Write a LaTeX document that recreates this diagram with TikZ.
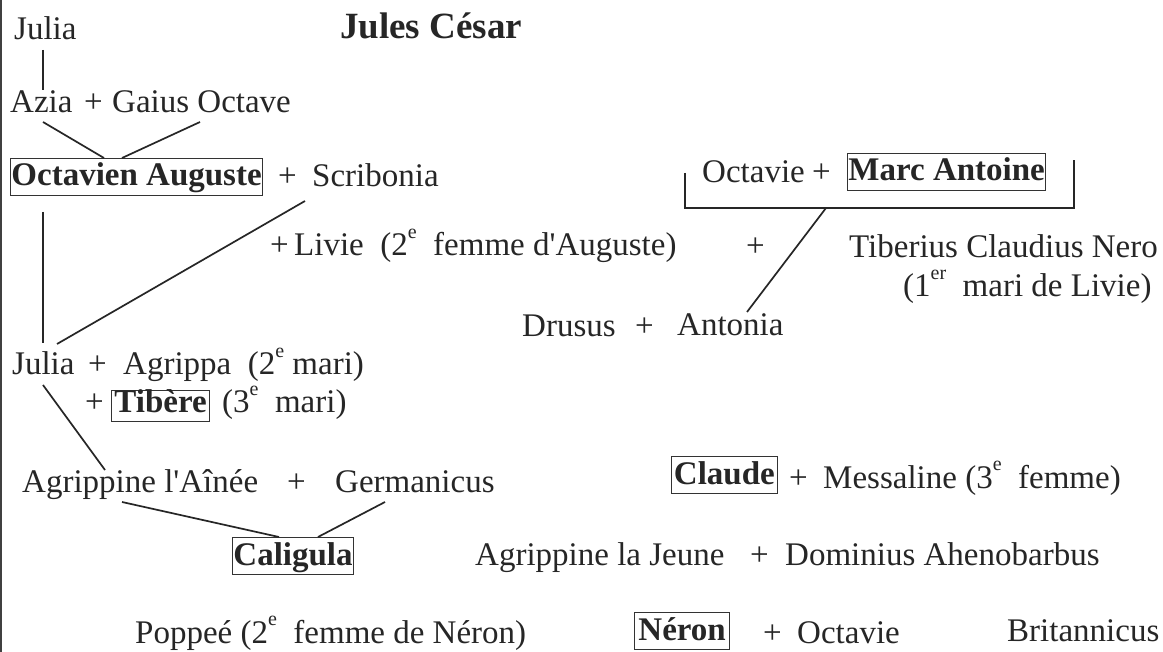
\documentclass[tikz,border=0pt]{standalone}
\usepackage{fontspec}
\setmainfont{Liberation Serif}[Ligatures=TeXOff]
\usetikzlibrary{calc}
\newcommand\supx[1]{\raisebox{1.15ex}{\fontsize{20}{20}\selectfont #1}}
\begin{document}
\begin{tikzpicture}[x=1pt,y=-1pt,
  lbl/.style={anchor=base west, inner sep=0pt, font=\fontsize{33}{40}\selectfont, text=black!85},
  boldlbl/.style={lbl, font=\fontsize{37}{44}\selectfont\bfseries},
  boxed/.style={lbl, draw=black!80, line width=0.9pt, inner xsep=1pt, inner ysep=3pt, text height=25pt, text depth=6pt, font=\fontsize{33}{40}\selectfont\bfseries},
  link/.style={line width=1.7pt, draw=black!85}]
\useasboundingbox[fill=white] (0,0) rectangle (1163,652);
\draw[black!75, line width=2pt] (1,0) -- (1,652);

\node[lbl] (julia1) at (14,40) {Julia};
\node[boldlbl] (cesar) at (340,39) {Jules César};
\node[lbl] (azia) at (10,113) {Azia};
\node[lbl] (p1) at (84,113) {+};
\node[lbl] (gaius) at (112,113) {Gaius Octave};
\node[boxed] (auguste) at (10,186) {Octavien Auguste};
\node[lbl] (p2) at (278,187) {+};
\node[lbl] (scribonia) at (312,187) {Scribonia};
\node[lbl] (p3) at (270,256) {+};
\node[lbl] (livie) at (294,256) {Livie\ \ (2\supx{e}\ \ femme d'Auguste)};
\node[lbl] (p4) at (746,257) {+};
\node[lbl] (tiberius) at (849,258) {Tiberius Claudius Nero};
\node[lbl] (mari1) at (903,297) {(1\supx{er}\ \ mari de Livie)};
\node[lbl] (octavie1) at (702,183) {Octavie};
\node[lbl] (p5) at (812,183) {+};
\node[boxed] (marc) at (847,181) {Marc Antoine};
\node[lbl] (drusus) at (522,337) {Drusus};
\node[lbl] (p6) at (635,337) {+};
\node[lbl] (antonia) at (677,336) {Antonia};

\node[lbl] (julia2) at (12,375) {Julia};
\node[lbl] (p7) at (88,375) {+};
\node[lbl] (agrippa) at (123,375) {Agrippa\ \ (2\supx{e} mari)};
\node[lbl] (p8) at (85,413) {+};
\node[boxed, text height=22pt, text depth=8pt, inner ysep=0.5pt, inner xsep=3pt] (tibere) at (111,413) {Tibère};
\node[lbl] (mari3) at (222,413) {(3\supx{e}\ \ mari)};

\node[lbl] (agrippine) at (22,492) {Agrippine l'Aînée};
\node[lbl] (p9) at (287,492) {+};
\node[lbl] (germanicus) at (335,492) {Germanicus};
\node[boxed] (caligula) at (232,565) {Caligula};

\node[boxed, inner xsep=2.5pt] (claude) at (671,484) {Claude};
\node[lbl] (p10) at (789,488) {+};
\node[lbl] (messaline) at (823,488) {Messaline (3\supx{e}\ \ femme)};

\node[lbl] (agrjeune) at (475,565) {Agrippine la Jeune};
\node[lbl] (p11) at (750,565) {+};
\node[lbl] (dominius) at (785,565) {Dominius Ahenobarbus};

\node[lbl] (poppee) at (135,643) {Poppeé (2\supx{e}\ \ femme de Néron)};
\node[boxed, inner xsep=4pt] (neron) at (634,640) {Néron};
\node[lbl] (p12) at (763,643) {+};
\node[lbl] (octavie2) at (797,643) {Octavie};
\node[lbl] (britannicus) at (1007,641) {Britannicus};

\draw[link] ($(julia1.base west)+(29,10)$) -- ($(azia.base west)+(33,-23)$);
\draw[link] ($(azia.base west)+(33,9)$) -- ($(auguste.base west)+(94,-28)$);
\draw[link] ($(gaius.base west)+(88,9)$) -- ($(auguste.base west)+(112,-28)$);
\draw[link] ($(auguste.base west)+(33,26)$) -- ($(julia2.base west)+(31,-32)$);
\draw[link] ($(scribonia.base west)+(-7,14)$) -- ($(julia2.base west)+(45,-31)$);
\draw[link] ($(octavie1.base west)+(-17,-10)$) |- ($(octavie1.base west)+(372,25)$) -- ($(octavie1.base west)+(372,-23)$);
\coordinate (bm) at ($(octavie1.base west)+(124,25)$);
\draw[link] (bm) -- ($(antonia.base west)+(70,-24)$);
\draw[link] ($(julia2.base west)+(31,10)$) -- ($(agrippine.base west)+(83,-22)$);
\draw[link] ($(agrippine.base west)+(100,10)$) -- ($(caligula.base west)+(47,-28)$);
\draw[link] ($(germanicus.base west)+(50,10)$) -- ($(caligula.base west)+(86,-28)$);
\end{tikzpicture}
\end{document}
